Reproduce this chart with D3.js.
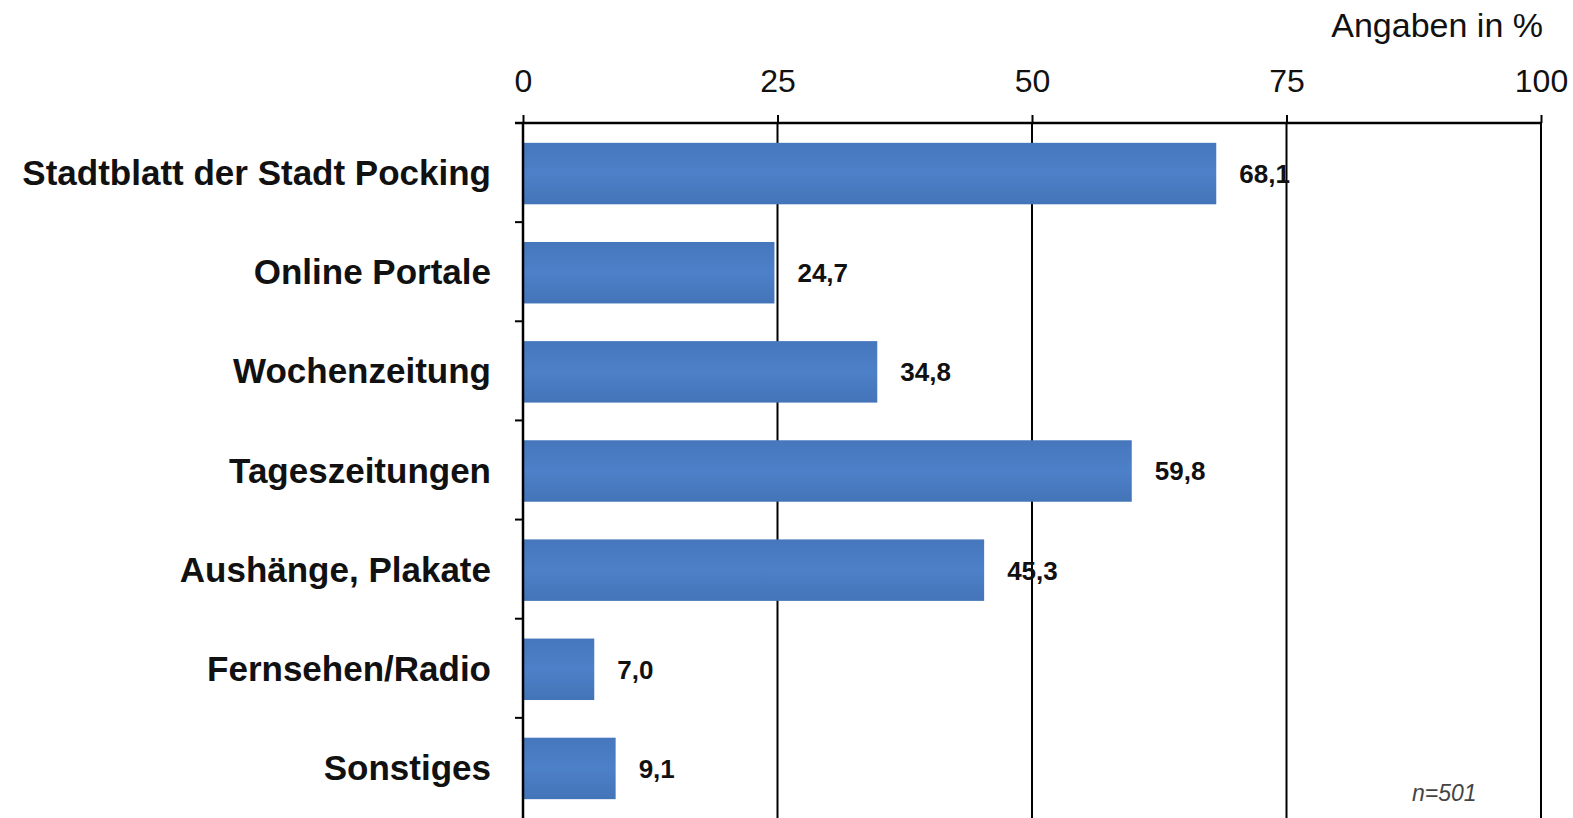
<!DOCTYPE html>
<html>
<head>
<meta charset="utf-8">
<script src="https://cdn.jsdelivr.net/npm/d3@7"></script>
<style>
  html, body { margin: 0; padding: 0; background: #fff; }
  svg { display: block; font-family: "Liberation Sans", Arial, sans-serif; }
</style>
</head>
<body>
<svg id="chart" width="1573" height="818"></svg>
<script>
// Sources of information (multiple answers), percent of respondents
const categories = [
  "Stadtblatt der Stadt Pocking",
  "Online Portale",
  "Wochenzeitung",
  "Tageszeitungen",
  "Aushänge, Plakate",
  "Fernsehen/Radio",
  "Sonstiges"
];
const values = [68.1, 24.7, 34.8, 59.8, 45.3, 7.0, 9.1];
const xTicks = [0, 25, 50, 75, 100];
const unitLabel = "Angaben in %";
const sampleNote = "n=501";

const svg = d3.select("#chart");
const margin = { top: 123, left: 523, right: 32, bottom: 0 };
const W = 1573, H = 818;
const plotW = W - margin.left - margin.right;
const plotH = 694;

const g = svg.append("g").attr("transform", `translate(${margin.left},${margin.top})`);

const x = d3.scaleLinear().domain([0, 100]).range([0, plotW]);
const y = d3.scaleBand().domain(categories).range([0, plotH]).paddingInner(0).paddingOuter(0);
const barFrac = 0.62;
const barH = y.bandwidth() * barFrac;

// Bar fill with a soft vertical sheen
const defs = svg.append("defs");
const grad = defs.append("linearGradient").attr("id", "barFill")
  .attr("x1", 0).attr("y1", 0).attr("x2", 0).attr("y2", 1);
grad.append("stop").attr("offset", "0%").attr("stop-color", "#4677bd");
grad.append("stop").attr("offset", "50%").attr("stop-color", "#4c80c8");
grad.append("stop").attr("offset", "100%").attr("stop-color", "#4474b8");

// Vertical grid lines
g.append("g").selectAll("line").data(xTicks.slice(1)).join("line")
  .attr("x1", d => x(d)).attr("x2", d => x(d))
  .attr("y1", 0).attr("y2", H - margin.top)
  .attr("stroke", "#000").attr("stroke-width", 2);

// Bars
g.append("g").selectAll("rect").data(values).join("rect")
  .attr("x", x(0))
  .attr("y", (d, i) => y(categories[i]) + (y.bandwidth() - barH) / 2 + 1)
  .attr("width", d => x(d) - x(0))
  .attr("height", barH)
  .attr("fill", "url(#barFill)");

// Value labels
g.append("g").selectAll("text").data(values).join("text")
  .attr("x", d => x(d) + 23)
  .attr("y", (d, i) => y(categories[i]) + y.bandwidth() / 2 + 1)
  .attr("dy", "0.36em")
  .attr("font-size", 26)
  .attr("font-weight", "bold")
  .attr("fill", "#111")
  .text(d => d.toFixed(1).replace(".", ","));

// Top axis
const xAxis = d3.axisTop(x).tickValues(xTicks).tickSizeInner(8).tickSizeOuter(0).tickPadding(23)
  .tickFormat(d3.format("d"));
const ax = g.append("g").call(xAxis);
ax.select(".domain").attr("stroke", "#000").attr("stroke-width", 2.5)
  .attr("d", `M${-8},0H${plotW}`);
ax.selectAll(".tick line").attr("stroke", "#000").attr("stroke-width", 2);
ax.selectAll(".tick text").attr("font-size", 32).attr("fill", "#111")
  .attr("font-family", "Liberation Sans, Arial, sans-serif");

// Left axis line with ticks at category boundaries
g.append("line").attr("x1", 0).attr("x2", 0).attr("y1", 0).attr("y2", H - margin.top)
  .attr("stroke", "#000").attr("stroke-width", 2.5);
g.append("g").selectAll("line").data(categories.slice(1)).join("line")
  .attr("x1", -8).attr("x2", 0)
  .attr("y1", d => y(d)).attr("y2", d => y(d))
  .attr("stroke", "#000").attr("stroke-width", 2);

// Category labels
g.append("g").selectAll("text").data(categories).join("text")
  .attr("x", -32)
  .attr("y", d => y(d) + y.bandwidth() / 2)
  .attr("dy", "0.36em")
  .attr("text-anchor", "end")
  .attr("font-size", 35)
  .attr("font-weight", "bold")
  .attr("fill", "#111")
  .text(d => d);

// Unit caption
svg.append("text")
  .attr("x", margin.left + plotW + 2)
  .attr("y", 37)
  .attr("text-anchor", "end")
  .attr("font-size", 34)
  .attr("fill", "#111")
  .text(unitLabel);

// Sample size note
svg.append("text")
  .attr("x", margin.left + x(90.5))
  .attr("y", 801)
  .attr("text-anchor", "middle")
  .attr("font-size", 23)
  .attr("font-style", "italic")
  .attr("fill", "#444")
  .text(sampleNote);
</script>
</body>
</html>
